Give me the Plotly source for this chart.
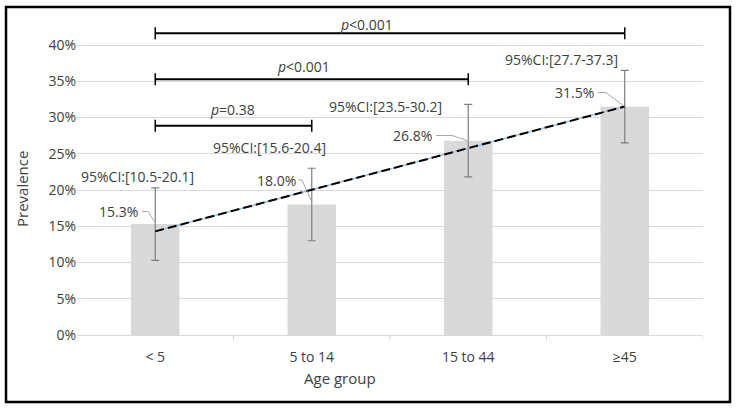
import numpy as np
import plotly.graph_objects as go

categories = ["< 5", "5 to 14", "15 to 44", "≥45"]
prevalence = [15.3, 18.0, 26.8, 31.5]
error_half = [5.0, 5.0, 5.0, 5.0]
ci_labels = ["95%CI:[10.5-20.1]", "95%CI:[15.6-20.4]", "95%CI:[23.5-30.2]", "95%CI:[27.7-37.3]"]
y_ticks = [0, 5, 10, 15, 20, 25, 30, 35, 40]
p_labels = ["<i>p</i>=0.38", "<i>p</i>&lt;0.001", "<i>p</i>&lt;0.001"]
p_pairs = [(0, 1), (0, 2), (0, 3)]

# plot geometry (pixels)
L, R, T, B = 77, 703, 16, 335
W, H = 737, 413
YMAX = 44.0
cat_px = (R - L) / 4.0
pct_px = (B - T) / YMAX

def X(px):
    return (px - L) / cat_px - 0.5

def Y(py):
    return (B - py) / pct_px

FONT = "Open Sans"
TXT = "#404040"

fig = go.Figure()

fig.add_trace(go.Bar(
    x=list(range(4)), y=prevalence, width=0.31,
    marker=dict(color="#d9d9d9", line=dict(width=0)),
    error_y=dict(type="data", array=error_half, visible=True,
                 color="#7f7f7f", thickness=1.2, width=4),
    hoverinfo="skip", showlegend=False,
))

# linear trendline
xi = np.arange(len(prevalence))
slope, intercept = np.polyfit(xi, prevalence, 1)
tx = [0, len(prevalence) - 1]
ty = [intercept + slope * v for v in tx]
fig.add_trace(go.Scatter(x=tx, y=ty, mode="lines",
                         line=dict(color="#9dc3e6", width=1.5),
                         hoverinfo="skip", showlegend=False))
fig.add_trace(go.Scatter(x=tx, y=ty, mode="lines",
                         line=dict(color="black", width=2, dash="9px,4px"),
                         hoverinfo="skip", showlegend=False))

annotations = []
shapes = []

# value labels with leader lines (pixel layout)
val_lbl_px = [(118, 211.5), (276, 180), (412.5, 135.5), (574, 92.5)]
leaders_px = [
    [(142, 211.5), (148, 211.5), (155.3, 223)],
    [(298, 180), (302, 180), (311, 200)],
    [(436, 135.5), (452, 135.5), (467, 140.5)],
    [(598, 92.5), (606, 92.5), (624.5, 106.5)],
]
for i, v in enumerate(prevalence):
    px, py = val_lbl_px[i]
    annotations.append(dict(x=X(px), y=Y(py), xref="x", yref="y", text=f"{v:.1f}%",
                            xanchor="center", yanchor="middle",
                            showarrow=False, font=dict(family=FONT, size=14, color=TXT)))
    pts = leaders_px[i]
    path = "M " + " L ".join(f"{X(a)},{Y(b)}" for a, b in pts)
    shapes.append(dict(type="path", path=path, xref="x", yref="y",
                       line=dict(color="#a6a6a6", width=1)))

# CI labels
ci_px = [(137.5, 176.5), (269, 147), (385, 106), (561, 59)]
for i, t in enumerate(ci_labels):
    px, py = ci_px[i]
    annotations.append(dict(x=X(px), y=Y(py), xref="x", yref="y", text=t,
                            xanchor="center", yanchor="middle",
                            showarrow=False, font=dict(family=FONT, size=14, color=TXT)))

# significance brackets
br_y_px = [125.7, 79.3, 33.3]
br_t_px = [(232, 109), (303, 66.5), (366, 24.5)]
tick_h = 6 / pct_px
for k, (a, b) in enumerate(p_pairs):
    yb = Y(br_y_px[k])
    shapes.append(dict(type="line", xref="x", yref="y", x0=a, x1=b, y0=yb, y1=yb,
                       line=dict(color="black", width=2)))
    for xe in (a, b):
        shapes.append(dict(type="line", xref="x", yref="y", x0=xe, x1=xe,
                           y0=yb - tick_h, y1=yb + tick_h,
                           line=dict(color="black", width=1.5)))
    px, py = br_t_px[k]
    annotations.append(dict(x=X(px), y=Y(py), xref="x", yref="y", text=p_labels[k],
                            xanchor="center", yanchor="middle",
                            showarrow=False, font=dict(family=FONT, size=14, color=TXT)))

# axis titles
annotations.append(dict(x=(22 - L) / (R - L), y=(B - 189) / (B - T), xref="paper", yref="paper",
                        xanchor="center", yanchor="middle",
                        text="Prevalence", textangle=-90, showarrow=False,
                        font=dict(family=FONT, size=15, color=TXT)))
annotations.append(dict(x=(340 - L) / (R - L), y=(B - 378) / (B - T), xref="paper", yref="paper",
                        xanchor="center", yanchor="middle",
                        text="Age group", showarrow=False,
                        font=dict(family=FONT, size=15, color=TXT)))

# outer border
shapes.append(dict(type="rect", xref="paper", yref="paper",
                   x0=(6 - L) / (R - L), x1=(730 - L) / (R - L),
                   y0=(B - 402) / (B - T), y1=(B - 7) / (B - T),
                   line=dict(color="black", width=2.5)))

# boundary tick marks on x axis
for k in range(5):
    shapes.append(dict(type="line", xref="x", yref="paper", x0=k - 0.5, x1=k - 0.5,
                       y0=0, y1=-5 / (B - T), line=dict(color="#d9d9d9", width=1)))

fig.update_layout(
    width=W, height=H,
    margin=dict(l=L, r=W - R, t=T, b=H - B),
    paper_bgcolor="white", plot_bgcolor="white",
    annotations=annotations, shapes=shapes,
    font=dict(family=FONT, size=14, color=TXT),
)
fig.update_xaxes(
    range=[-0.5, 3.5], tickmode="array", tickvals=list(range(4)), ticktext=categories,
    showgrid=False, showline=True, linecolor="#d9d9d9", linewidth=1,
    ticks="", zeroline=False, ticklabelstandoff=9,
    tickfont=dict(family=FONT, size=14, color=TXT),
)
fig.update_yaxes(
    range=[0, YMAX], tickmode="array", tickvals=y_ticks,
    ticktext=[f"{v}%" for v in y_ticks],
    showgrid=True, gridcolor="#d9d9d9", gridwidth=1, zeroline=False,
    showline=False, ticks="", tickfont=dict(family=FONT, size=14, color=TXT),
)

fig.write_html("out.html", config={"displayModeBar": False},
               post_script="document.body.style.margin='0';document.body.style.overflow='hidden';")
